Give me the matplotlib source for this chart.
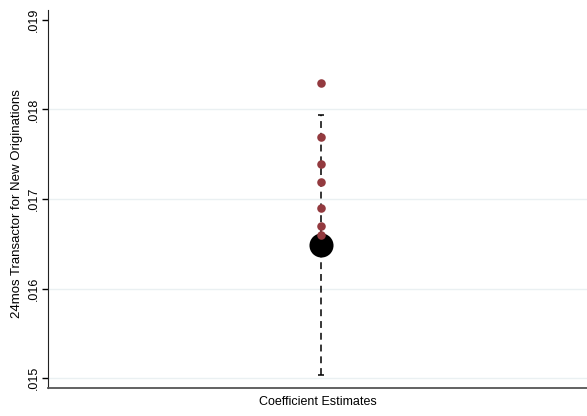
import matplotlib.pyplot as plt

plt.rcParams['font.family'] = ['Liberation Sans', 'DejaVu Sans']

# main coefficient with its confidence interval
estimate = 0.01649
ci_low = 0.01504
ci_high = 0.01794

# estimates from the alternative specifications
alt_estimates = [0.01829, 0.01769, 0.01739, 0.01719, 0.01690, 0.01670, 0.01660]

y_ticks = [0.015, 0.016, 0.017, 0.018, 0.019]
y_ticklabels = [".015", ".016", ".017", ".018", ".019"]

fig = plt.figure(figsize=(5.87, 4.16), dpi=100)
ax = fig.add_axes([48 / 587, 28 / 416, 539 / 587, 378 / 416])

xpos = 1.0

eb = ax.errorbar([xpos], [estimate], yerr=[[estimate - ci_low], [ci_high - estimate]],
                 fmt='none', ecolor='black', elinewidth=1.1, capsize=2.2, capthick=1.1, zorder=2)
eb[2][0].set_linestyle((0, (4.5, 3.2)))

ax.scatter([xpos], [estimate], s=300, color='black', zorder=3, linewidths=0)
ax.scatter([xpos] * len(alt_estimates), alt_estimates, s=38, color='#933a3f', zorder=4, linewidths=0)

ax.set_xlim(0.0, 1.975)
ax.set_ylim(0.01489, 0.01911)
ax.set_xticks([])
ax.set_yticks(y_ticks)
ax.set_yticklabels(y_ticklabels, rotation=90, va='center', fontsize=9)
ax.tick_params(axis='y', length=4, width=1, pad=2)

for t in y_ticks[:-1]:
    ax.axhline(t, color='#eaf0f2', lw=1, zorder=0)

ax.spines['top'].set_visible(False)
ax.spines['right'].set_visible(False)
ax.spines['left'].set_color('#222222')
ax.spines['bottom'].set_color('#555555')
ax.spines['bottom'].set_linewidth(1.3)

ax.set_xlabel("Coefficient Estimates", fontsize=9, labelpad=6)
ax.set_ylabel("24mos Transactor for New Originations", fontsize=9.5)
ax.yaxis.set_label_coords(-0.046, 0.487)

fig.savefig("out.png", dpi=100)
